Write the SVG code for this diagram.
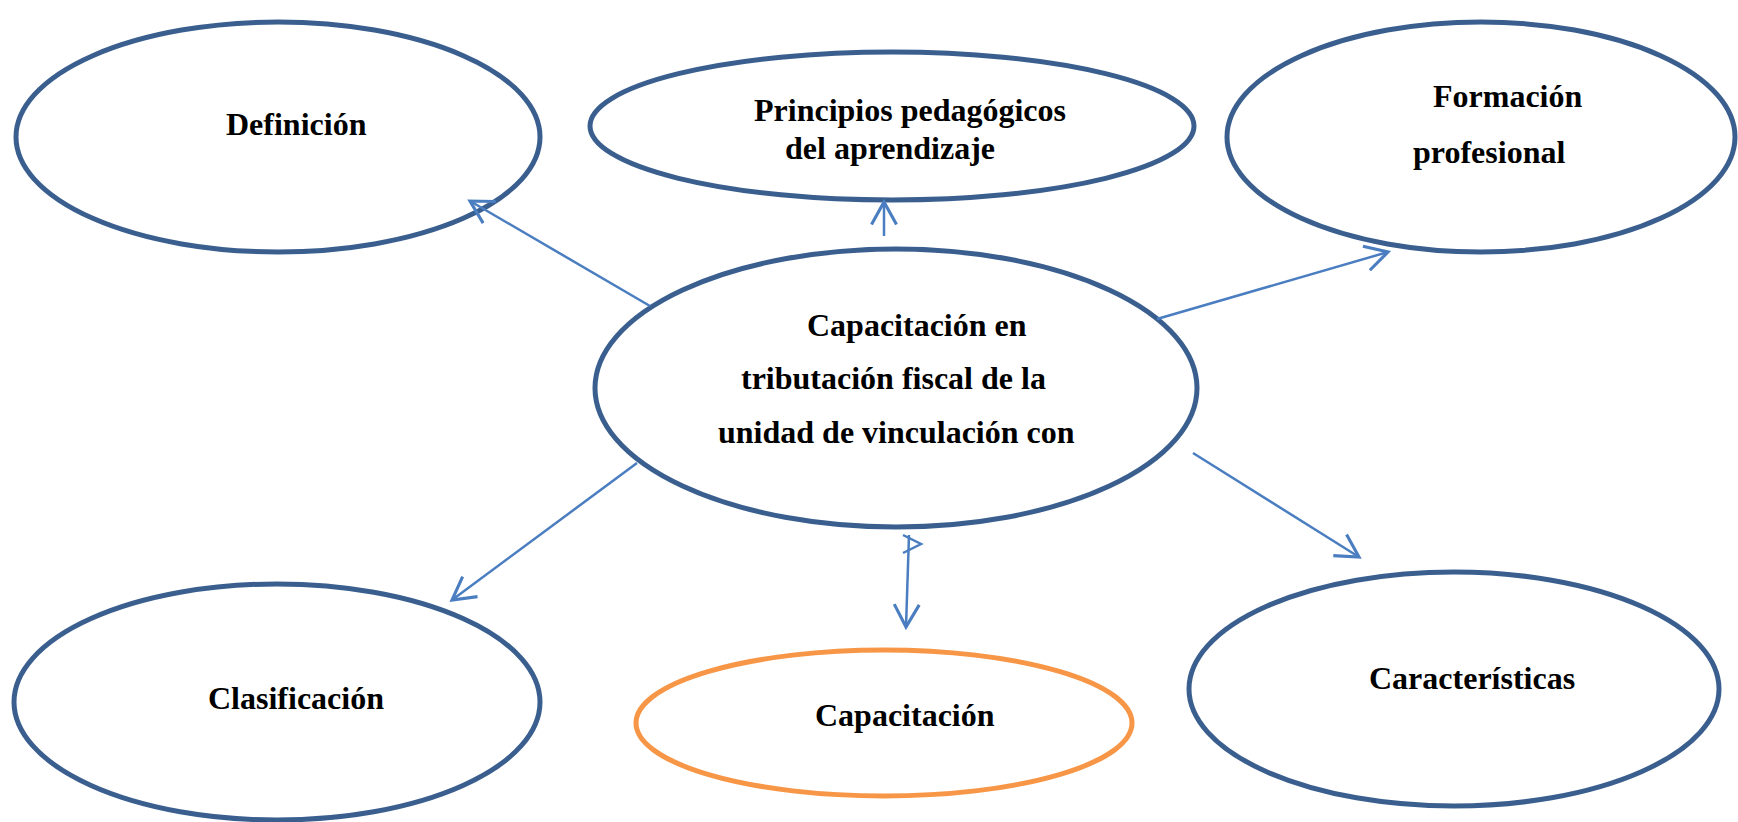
<svg xmlns="http://www.w3.org/2000/svg" width="1738" height="822" viewBox="0 0 1738 822">
<defs>
<style>
.n{fill:#fff;stroke:#3A5F8F;stroke-width:5}
.o{fill:#fff;stroke:#F79646;stroke-width:5}
.t{font-family:"Liberation Serif","Times New Roman",serif;font-weight:bold;font-size:32px;fill:#000}
.c{fill:none;stroke:#4A7EC0;stroke-width:2.5}
</style>
<marker id="ah" markerUnits="userSpaceOnUse" markerWidth="30" markerHeight="30" viewBox="-20 -12 24 24" refX="0" refY="0" orient="auto">
<path d="M-18,-10 L0,0 L-18,10" fill="none" stroke="#4A7EC0" stroke-width="2.5"/>
</marker>
</defs>
<rect width="1738" height="822" fill="#fff"/>
<g id="n-definicion"><ellipse class="n" cx="278" cy="137" rx="262" ry="115"/><text class="t" x="226" y="135">Definición</text></g>
<g id="n-principios"><ellipse class="n" cx="892" cy="126" rx="302" ry="74"/><text class="t" x="754" y="121">Principios pedagógicos</text><text class="t" x="785" y="159">del aprendizaje</text></g>
<g id="n-formacion"><ellipse class="n" cx="1481" cy="137" rx="254" ry="115"/><text class="t" x="1433" y="107">Formación</text><text class="t" x="1413" y="163">profesional</text></g>
<g id="n-central"><ellipse class="n" cx="896" cy="388" rx="301" ry="139"/><text class="t" x="807" y="336">Capacitación en</text><text class="t" x="741" y="389">tributación fiscal de la</text><text class="t" x="718" y="443">unidad de vinculación con</text></g>
<g id="n-clasificacion"><ellipse class="n" cx="277" cy="702" rx="263" ry="118"/><text class="t" x="208" y="709">Clasificación</text></g>
<g id="n-capacitacion"><ellipse class="o" cx="884" cy="723" rx="248" ry="73"/><text class="t" x="815" y="726">Capacitación</text></g>
<g id="n-caracteristicas"><ellipse class="n" cx="1454" cy="689" rx="265" ry="117"/><text class="t" x="1369" y="689">Características</text></g>
<g id="connectors">
<line class="c" x1="650" y1="306" x2="470" y2="201" marker-end="url(#ah)"/>
<line class="c" x1="884" y1="236" x2="884" y2="202" marker-end="url(#ah)"/>
<line class="c" x1="1157" y1="319" x2="1388" y2="252" marker-end="url(#ah)"/>
<line class="c" x1="1193" y1="453" x2="1359" y2="557" marker-end="url(#ah)"/>
<line class="c" x1="637" y1="463" x2="452" y2="600" marker-end="url(#ah)"/>
<line class="c" x1="909" y1="535" x2="906" y2="627" marker-end="url(#ah)"/>
<polyline class="c" points="903,535 921,544 903,553"/>
</g>
</svg>
